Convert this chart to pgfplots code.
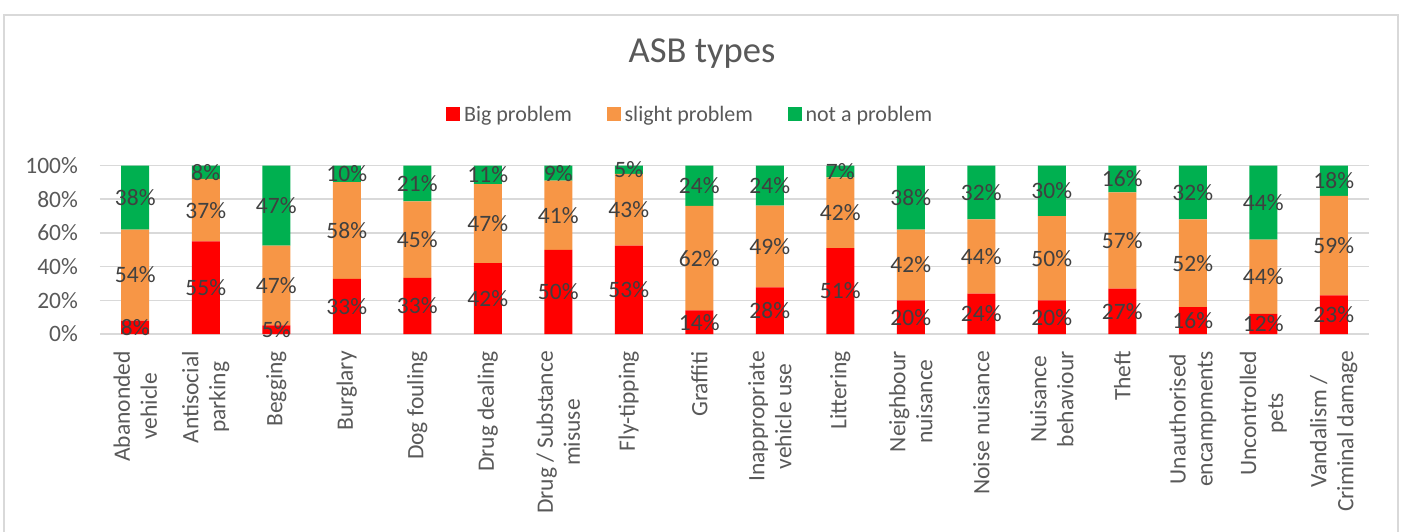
\documentclass[border=0pt]{standalone}
\usepackage{fontspec}
\setmainfont{Carlito}
\usepackage{pgfplots}
\usepackage{pgfplotstable}
\pgfplotsset{compat=1.18}

\definecolor{bigred}{HTML}{FF0000}
\definecolor{slightor}{HTML}{F79646}
\definecolor{notgreen}{HTML}{00B050}
\definecolor{gridgrey}{HTML}{D9D9D9}
\definecolor{txtgrey}{HTML}{595959}
\definecolor{lblgrey}{HTML}{404040}

% share of respondents per ASB type: big / slight / not a problem (%)
\pgfplotstableread[col sep=comma]{
x,big,slight,not
0,8,54,38
1,55,37,8
2,5,47,47
3,33,58,10
4,33,45,21
5,42,47,11
6,50,41,9
7,53,43,5
8,14,62,24
9,28,49,24
10,51,42,7
11,20,42,38
12,24,44,32
13,20,50,30
14,27,57,16
15,16,52,32
16,12,44,44
17,23,59,18
}\asbdata

\pgfplotsset{
  asbaxis/.style={
    scale only axis, width=634.5pt, height=84.25pt,
    at={(0pt,0pt)}, anchor=south west,
    xmin=-0.5, xmax=17.5, ymin=0, ymax=100,
    /pgf/number format/assume math mode=true,
  },
}
\newcommand{\pct}[1]{100*(#1)/(\thisrow{big}+\thisrow{slight}+\thisrow{not})}

\begin{document}
\begin{tikzpicture}
\useasboundingbox (-50pt,-98.5pt) rectangle (651.5pt,167pt);
\draw[gridgrey, line width=0.75pt] (-48pt,-120pt) rectangle (649pt,159.5pt);

\node[anchor=base, text=txtgrey, font=\fontsize{18.3}{22}\selectfont] at (301pt,135.5pt) {ASB types};

\begin{axis}[asbaxis,
  ybar stacked, bar width=14pt,
  axis line style={draw=none},
  major tick length=0pt,
  ymajorgrids, grid style={gridgrey, line width=0.75pt},
  ytick={0,20,...,100},
  yticklabel={\pgfmathprintnumber{\tick}\%},
  yticklabel shift=7.5pt,
  xtick={0,...,17},
  xticklabels={Abanonded\\vehicle, Antisocial\\parking, Begging, Burglary,
    Dog fouling, Drug dealing, Drug / Substance\\misuse, Fly-tipping, Graffiti,
    Inappropriate\\vehicle use, Littering, Neighbour\\nuisance, Noise nuisance,
    Nuisance\\behaviour, Theft, Unauthorised\\encampments, Uncontrolled\\pets,
    Vandalism /\\Criminal damage},
  xticklabel shift=5pt,
  x tick label style={rotate=90, anchor=east, align=center,
    font=\fontsize{11.75}{13.5}\selectfont},
  y tick label style={font=\fontsize{11.75}{13.5}\selectfont},
  tick label style={text=txtgrey},
  legend columns=3,
  legend style={at={(0.4660,1.2997)}, anchor=center, draw=none, fill=none,
    font=\fontsize{11}{13}\selectfont, text=txtgrey,
    /tikz/every even column/.append style={column sep=15.5pt}},
  legend image code/.code={\fill[#1, draw=none] (0pt,-3pt) rectangle (6.8pt,3.8pt);},
]
\addplot[fill=bigred, draw=none] table[x=x, y expr={\pct{\thisrow{big}}}] {\asbdata};
\addplot[fill=slightor, draw=none] table[x=x, y expr={\pct{\thisrow{slight}}}] {\asbdata};
\addplot[fill=notgreen, draw=none] table[x=x, y expr={\pct{\thisrow{not}}}] {\asbdata};
\legend{Big problem, slight problem, not a problem}
\end{axis}

\begin{axis}[asbaxis, hide axis, clip=false,
  point meta=explicit,
  nodes near coords={\pgfmathprintnumber{\pgfplotspointmeta}\%},
  every node near coord/.append style={anchor=center, text=lblgrey,
    font=\fontsize{11.75}{13.5}\selectfont},
]
\addplot[draw=none, mark=none] table[x=x, meta=big,
  y expr={\pct{\thisrow{big}/2}}] {\asbdata};
\addplot[draw=none, mark=none] table[x=x, meta=slight,
  y expr={\pct{\thisrow{big}+\thisrow{slight}/2}}] {\asbdata};
\addplot[draw=none, mark=none] table[x=x, meta=not,
  y expr={\pct{\thisrow{big}+\thisrow{slight}+\thisrow{not}/2}}] {\asbdata};
\end{axis}
\end{tikzpicture}
\end{document}
